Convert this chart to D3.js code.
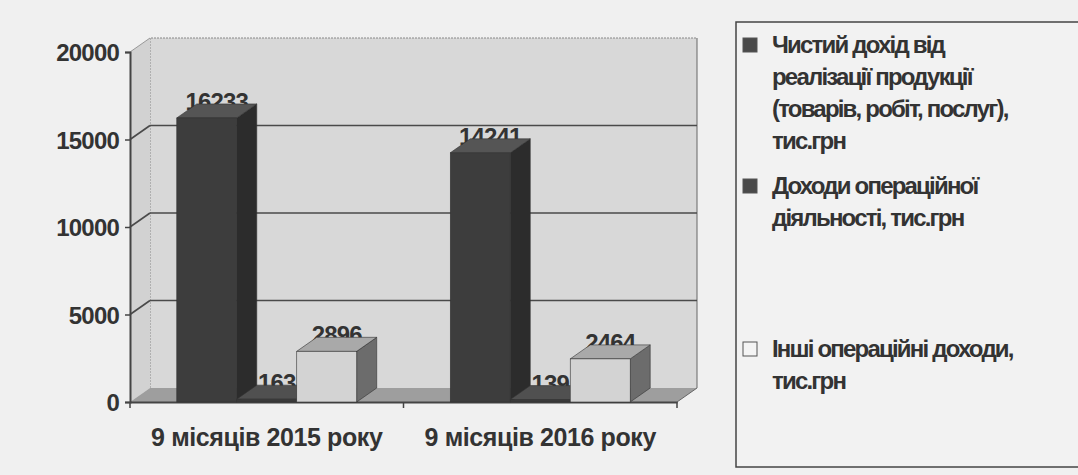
<!DOCTYPE html>
<html><head><meta charset="utf-8">
<script src="https://cdn.jsdelivr.net/npm/d3@7"></script>
<style>
html,body{margin:0;padding:0;background:#f0f0f0;}
svg{display:block;}
text{font-family:"Liberation Sans",Arial,sans-serif;font-weight:bold;fill:#333;}
</style></head>
<body>
<svg id="chart" width="1078" height="475"></svg>
<script>
const categories = ["9 місяців 2015 року", "9 місяців 2016 року"];
const seriesNames = [
  "Чистий дохід від реалізації продукції (товарів, робіт, послуг), тис.грн",
  "Доходи операційної діяльності, тис.грн",
  "Інші операційні доходи, тис.грн"
];
const netIncome = [16233, 14241];
const operatingIncome = [163, 139];
const otherIncome = [2896, 2464];
const yTicks = [0, 5000, 10000, 15000, 20000];
const legendLines = [
  ["Чистий дохід від", "реалізації продукції", "(товарів, робіт, послуг),", "тис.грн"],
  ["Доходи операційної", "діяльності, тис.грн"],
  ["Інші операційні доходи,", "тис.грн"]
];

const series = [netIncome, operatingIncome, otherIncome];
const faceColors = [
  {front:"#3d3d3d", side:"#2c2c2c", top:"#555555"},
  {front:"#3a3a3a", side:"#2a2a2a", top:"#505050"},
  {front:"#d3d3d3", side:"#6c6c6c", top:"#a9a9a9"}
];
const legendFill = ["#4a4a4a", "#4a4a4a", "#f4f4f4"];

const svg = d3.select("#chart");
const x0 = 130, x1 = 677, dx = 20, dy = -14;
const y = d3.scaleLinear().domain([0, 20000]).range([402, 52]);
const xCat = d3.scaleBand().domain(categories).range([x0, x1]).paddingInner(0).paddingOuter(0);
const xSer = d3.scaleBand().domain(d3.range(series.length)).range([0, xCat.bandwidth()]).paddingOuter(0.78).paddingInner(0);

const g = svg.append("g");
// back wall
g.append("polygon")
  .attr("points", [[x0+dx, y(20000)+dy],[x1+dx, y(20000)+dy],[x1+dx, y(0)+dy],[x0+dx, y(0)+dy]].join(" "))
  .attr("fill", "#d8d8d8");
g.append("polyline")
  .attr("points", [[x0+dx, y(0)+dy],[x0+dx, y(20000)+dy],[x1+dx, y(20000)+dy]].join(" "))
  .attr("fill", "none").attr("stroke", "#888").attr("stroke-width", 1).attr("stroke-dasharray","2,1");
g.append("line").attr("x1", x1+dx).attr("x2", x1+dx).attr("y1", y(20000)+dy).attr("y2", y(0)+dy)
  .attr("stroke", "#666").attr("stroke-width", 1);
// side wall
g.append("polygon")
  .attr("points", [[x0, y(20000)],[x0+dx, y(20000)+dy],[x0+dx, y(0)+dy],[x0, y(0)]].join(" "))
  .attr("fill", "#d2d2d2");
// floor
g.append("polygon")
  .attr("points", [[x0, y(0)],[x0+dx, y(0)+dy],[x1+dx, y(0)+dy],[x1, y(0)]].join(" "))
  .attr("fill", "#9e9e9e");

// gridlines
yTicks.forEach(t => {
  if (t === 0) return;
  const c = t === 20000 ? "#999999" : "#4a4a4a";
  const w = t === 20000 ? 1 : 1.6;
  g.append("line").attr("x1", x0).attr("y1", y(t)).attr("x2", x0+dx).attr("y2", y(t)+dy)
    .attr("stroke", c).attr("stroke-width", w);
  if (t !== 20000)
    g.append("line").attr("x1", x0+dx).attr("y1", y(t)+dy).attr("x2", x1+dx).attr("y2", y(t)+dy)
      .attr("stroke", c).attr("stroke-width", w);
});
// floor right edge
g.append("line").attr("x1", x1).attr("y1", y(0)).attr("x2", x1+dx).attr("y2", y(0)+dy)
  .attr("stroke", "#666").attr("stroke-width", 1);

// Y axis
const yAxis = d3.axisLeft(y).tickValues(yTicks).tickSize(5).tickFormat(d3.format("d"));
const ya = svg.append("g").attr("transform", `translate(${x0},0)`).call(yAxis);
ya.select(".domain").attr("stroke", "#444").attr("stroke-width", 2);
ya.selectAll(".tick line").attr("stroke", "#444").attr("stroke-width", 1.5);
ya.selectAll(".tick text").attr("x", -11).attr("dy", "0.36em")
  .style("font-size", "24px").style("font-family", '"Liberation Sans",Arial,sans-serif')
  .style("font-weight", "bold").attr("fill", "#333").style("letter-spacing", "-0.8px");

// X axis
const xAxis = d3.axisBottom(xCat).tickSize(0).tickSizeOuter(0);
const xa = svg.append("g").attr("transform", `translate(0,${y(0)})`).call(xAxis);
xa.select(".domain").attr("stroke", "#444").attr("stroke-width", 2);
xa.selectAll(".tick text").attr("dy", 0).attr("y", 44)
  .style("font-size", "25px").style("font-family", '"Liberation Sans",Arial,sans-serif')
  .style("font-weight", "bold").attr("fill", "#333").style("letter-spacing", "-0.4px");
// category boundary ticks
[x0, ...categories.map(c => xCat(c) + xCat.bandwidth())].forEach(xx => {
  svg.append("line").attr("x1", xx).attr("x2", xx).attr("y1", y(0)).attr("y2", y(0)+6)
    .attr("stroke", "#444").attr("stroke-width", 1.5);
});

// data rows
const rows = [];
categories.forEach((c, ci) => {
  series.forEach((s, si) => {
    rows.push({c, ci, si, v: s[ci], x: xCat(c) + xSer(si), w: xSer.bandwidth()});
  });
});

// labels (behind bars)
svg.append("g").selectAll("text").data(rows).join("text")
  .attr("x", d => d.x + d.w/2 + dx/2)
  .attr("y", d => y(d.v) + dy/2 - 1)
  .attr("text-anchor", "middle")
  .style("font-size", "24px").style("letter-spacing", "-0.8px")
  .text(d => d.v);

// bars
const bars = svg.append("g");
rows.forEach(d => {
  const col = faceColors[d.si];
  const xl = d.x, xr = d.x + d.w, yt = y(d.v), yb = y(0);
  const bg = bars.append("g");
  bg.append("polygon").attr("points", [[xr, yt],[xr+dx, yt+dy],[xr+dx, yb+dy],[xr, yb]].join(" "))
    .attr("fill", col.side).attr("stroke", "#333").attr("stroke-width", 0.6);
  bg.append("polygon").attr("points", [[xl, yt],[xl+dx, yt+dy],[xr+dx, yt+dy],[xr, yt]].join(" "))
    .attr("fill", col.top).attr("stroke", "#333").attr("stroke-width", 0.6);
  bg.append("rect").attr("x", xl).attr("y", yt).attr("width", d.w).attr("height", yb - yt)
    .attr("fill", col.front).attr("stroke", "#333").attr("stroke-width", 0.6);
});

// legend
const lg = svg.append("g");
lg.append("rect").attr("x", 736).attr("y", 22).attr("width", 360).attr("height", 445)
  .attr("fill", "#f2f2f2").attr("stroke", "#444").attr("stroke-width", 1.5);
const itemTop = [45, 186, 349];
legendLines.forEach((lines, i) => {
  lg.append("rect").attr("x", 743).attr("y", itemTop[i] - 7).attr("width", 14).attr("height", 14)
    .attr("fill", legendFill[i]).attr("stroke", "#555").attr("stroke-width", 1);
  lines.forEach((ln, j) => {
    lg.append("text").attr("x", 772).attr("y", itemTop[i] + j * 32).attr("dy", "0.35em")
      .style("font-size", "24px").style("letter-spacing", "-1.8px").text(ln);
  });
});
</script>
</body></html>
